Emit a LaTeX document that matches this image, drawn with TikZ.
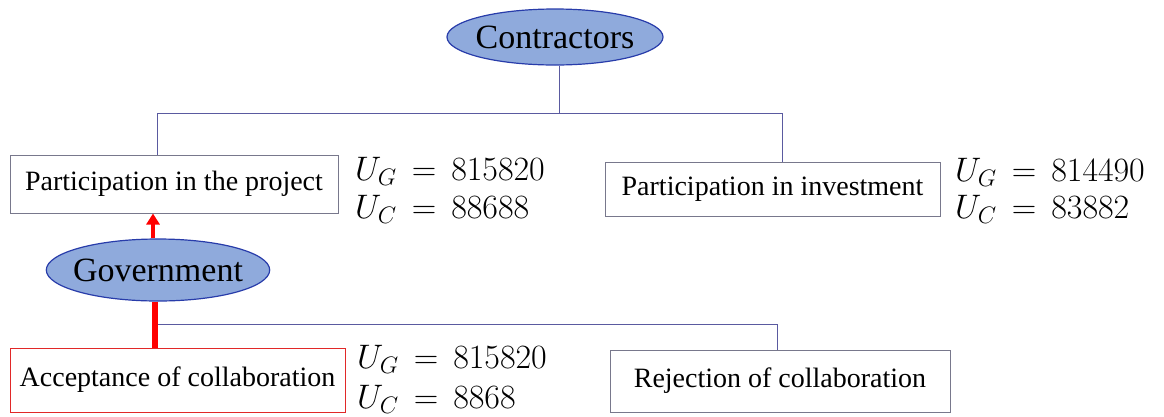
\documentclass[tikz,border=0pt]{standalone}
\usepackage{fix-cm}
\usepackage{fontspec}
\setmainfont{Liberation Serif}
\usetikzlibrary{shapes.geometric,arrows.meta}
\definecolor{ellfill}{RGB}{143,170,220}
\definecolor{elldraw}{RGB}{40,60,170}
\definecolor{connblue}{RGB}{90,90,160}
\definecolor{boxgray}{RGB}{120,120,140}
\definecolor{boxred}{RGB}{225,40,40}
\tikzset{
  actor/.style={ellipse, draw=elldraw, fill=ellfill, line width=1.2pt, inner sep=0pt,
    font=\fontsize{34}{38}\selectfont},
  choice/.style={rectangle, draw=boxgray, line width=1pt, inner sep=0pt,
    font=\fontsize{28}{32}\selectfont},
  conn/.style={draw=connblue, line width=1pt},
  payoff/.style={anchor=west, inner sep=0pt, font=\fontsize{34}{40}\selectfont},
  redline/.style={draw=red, line width=6pt},
}
\begin{document}
\begin{tikzpicture}[x=1pt,y=-1pt]
\useasboundingbox (0,0) rectangle (1164,416);
\node[actor, inner xsep=-3pt, minimum width=216pt, minimum height=56pt] (contr) at (555,37) {Contractors};
\node[actor, inner xsep=-6pt, minimum width=220pt, minimum height=62pt] (gov) at (158,270) {Government};
\node[choice, minimum width=328pt, minimum height=58pt] (proj) at (174,184) {Participation in the project};
\node[choice, minimum width=335pt, minimum height=54pt] (inv) at (772.5,189) {Participation in investment};
\node[choice, draw=boxred, minimum width=335pt, minimum height=64pt] (acc) at (177.5,380) {Acceptance of collaboration};
\node[choice, minimum width=340pt, minimum height=62pt] (rej) at (780,381) {Rejection of collaboration};

\node[payoff] (pg1) at (355,171) {$U_G\,=\,815820$};
\node[payoff] (pc1) at (355,209) {$U_C\,=\,88688$};
\node[payoff] (pg2) at (955,172) {$U_G\,=\,814490$};
\node[payoff] (pc2) at (955,209) {$U_C\,=\,83882$};
\node[payoff] (pg3) at (357,359) {$U_G\,=\,815820$};
\node[payoff] (pc3) at (357,399) {$U_C\,=\,8868$};

\draw[conn] ([xshift=4pt]contr.south) -- ++(0,48) coordinate (h1);
\draw[conn] ([xshift=-17pt]proj.north) |- (h1) -| ([xshift=9.5pt]inv.north);

\draw[draw=red, line width=4.5pt, -{Triangle[length=11pt,width=13pt]}] ([xshift=-5pt]gov.north) -- ([xshift=-5pt]gov.north |- proj.south);
\draw[redline] ([xshift=-3pt]gov.south) -- ([xshift=-3pt]gov.south |- acc.north) coordinate[pos=0.5] (r1);
\draw[conn] ([xshift=3pt]r1) -| ([xshift=-3pt]rej.north);
\end{tikzpicture}
\end{document}
